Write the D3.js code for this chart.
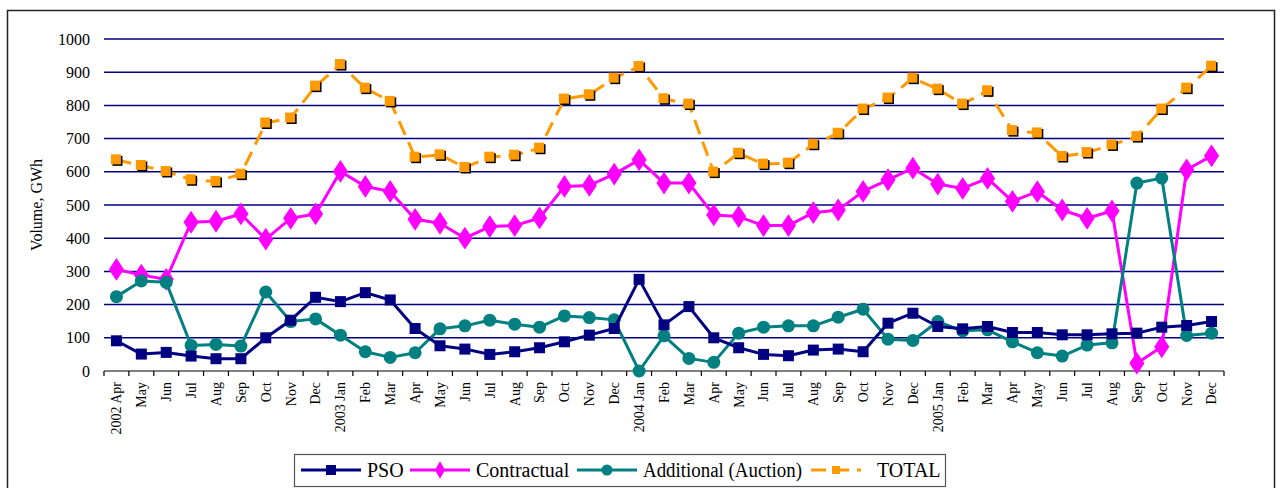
<!DOCTYPE html>
<html>
<head>
<meta charset="utf-8">
<script src="https://cdn.jsdelivr.net/npm/d3@7"></script>
<style>
  body { margin: 0; background: #fff; }
  svg { display: block; font-family: "Liberation Serif", "DejaVu Serif", serif; }
</style>
</head>
<body>
<div class="chart-container"></div>
<script>
// month labels, one per data point (Apr 2002 .. Dec 2005)
var months = [
    "2002 Apr", "May", "Jun", "Jul", "Aug", "Sep", "Oct", "Nov", "Dec",
    "2003 Jan", "Feb", "Mar", "Apr", "May", "Jun", "Jul", "Aug", "Sep", "Oct", "Nov", "Dec",
    "2004 Jan", "Feb", "Mar", "Apr", "May", "Jun", "Jul", "Aug", "Sep", "Oct", "Nov", "Dec",
    "2005 Jan", "Feb", "Mar", "Apr", "May", "Jun", "Jul", "Aug", "Sep", "Oct", "Nov", "Dec"
];

var pso = [
    91, 51, 56, 45, 37, 37, 100, 153, 222,
    209, 236, 214, 128, 76, 66, 50, 58, 70, 88, 108, 128,
    276, 139, 194, 100, 70, 50, 46, 63, 66, 58, 144, 174,
    134, 127, 134, 116, 116, 109, 109, 112, 114, 132, 137, 149
];

var contractual = [
    306, 289, 276, 448, 451, 473, 397, 460, 473,
    601, 556, 541, 457, 445, 400, 435, 438, 461, 556, 559, 593,
    636, 566, 566, 470, 465, 438, 438, 477, 485, 541, 576, 611,
    563, 550, 580, 511, 540, 485, 460, 482, 23, 73, 606, 648
];

var additional = [
    224, 271, 267, 77, 80, 75, 238, 149, 157,
    108, 58, 41, 55, 127, 136, 153, 141, 132, 166, 161, 154,
    0, 106, 38, 26, 114, 132, 136, 136, 162, 186, 96, 92,
    149, 121, 124, 88, 55, 45, 78, 85, 566, 581, 107, 114
];

var total = [
    636, 619, 601, 576, 571, 593, 747, 762, 858,
    923, 852, 812, 644, 651, 613, 644, 650, 671, 819, 832, 882,
    917, 820, 804, 599, 656, 623, 626, 683, 716, 789, 822, 882,
    849, 804, 844, 724, 717, 646, 658, 681, 706, 789, 852, 918
];

var yTicks = [0, 100, 200, 300, 400, 500, 600, 700, 800, 900, 1000];

var seriesNames = ["PSO", "Contractual", "Additional (Auction)", "TOTAL"];

var width = 1281, height = 488;
var plotLeft = 104, plotRight = 1224, plotTop = 39, plotBottom = 371;

var svg = d3.select(".chart-container")
        .append("svg")
        .attr("width", width)
        .attr("height", height);

// outer frame
svg.append("rect")
        .attr("x", 7.5)
        .attr("y", 10.5)
        .attr("width", 1267)
        .attr("height", 500)
        .attr("fill", "none")
        .attr("stroke", "#222")
        .attr("stroke-width", 1.5);

var x = d3.scaleBand()
        .domain(d3.range(months.length))
        .range([plotLeft, plotRight])
        .padding(0);

var y = d3.scaleLinear()
        .domain([0, 1000])
        .range([plotBottom, plotTop]);

function cx(i) {
    return x(i) + x.bandwidth() / 2;
}

// gridlines
svg.append("g")
        .selectAll("line")
        .data(yTicks.filter(function (d) { return d > 0; }))
        .enter()
        .append("line")
        .attr("x1", plotLeft)
        .attr("x2", plotRight)
        .attr("y1", function (d) { return y(d); })
        .attr("y2", function (d) { return y(d); })
        .attr("stroke", "#000080")
        .attr("stroke-width", 1.5);

// y tick labels
svg.append("g")
        .selectAll("text")
        .data(yTicks)
        .enter()
        .append("text")
        .attr("x", 90)
        .attr("y", function (d) { return y(d); })
        .attr("dy", "0.35em")
        .attr("text-anchor", "end")
        .attr("font-size", 16)
        .text(function (d) { return d; });

svg.append("text")
        .attr("transform", "translate(42,205) rotate(-90)")
        .attr("text-anchor", "middle")
        .attr("font-size", 16)
        .text("Volume, GWh");

// x axis line and ticks between categories
svg.append("line")
        .attr("x1", plotLeft)
        .attr("x2", plotRight)
        .attr("y1", plotBottom)
        .attr("y2", plotBottom)
        .attr("stroke", "#000")
        .attr("stroke-width", 1.2);

svg.append("g")
        .selectAll("line")
        .data(d3.range(months.length + 1))
        .enter()
        .append("line")
        .attr("x1", function (d) { return plotLeft + d * x.bandwidth(); })
        .attr("x2", function (d) { return plotLeft + d * x.bandwidth(); })
        .attr("y1", plotBottom)
        .attr("y2", plotBottom + 5)
        .attr("stroke", "#000")
        .attr("stroke-width", 1.2);

svg.append("g")
        .selectAll("text")
        .data(months)
        .enter()
        .append("text")
        .attr("transform", function (d, i) {
            return "translate(" + cx(i) + "," + (plotBottom + 11) + ") rotate(-90)";
        })
        .attr("dy", "0.35em")
        .attr("text-anchor", "end")
        .attr("font-size", 14)
        .text(function (d) { return d; });

var line = d3.line()
        .x(function (d, i) { return cx(i); })
        .y(function (d) { return y(d); });

function drawLine(values, color, dash) {
    svg.append("path")
            .datum(values)
            .attr("d", line)
            .attr("fill", "none")
            .attr("stroke", color)
            .attr("stroke-width", 3)
            .attr("stroke-linejoin", "round")
            .attr("stroke-dasharray", dash || null);
}

var diamond = d3.symbol().type(d3.symbolDiamond).size(150);

// TOTAL
drawLine(total, "#FF9900", "15,8");
var tg = svg.append("g");
tg.selectAll("rect.shadow")
        .data(total)
        .enter()
        .append("rect")
        .attr("x", function (d, i) { return cx(i) - 4; })
        .attr("y", function (d) { return y(d) - 4; })
        .attr("width", 10)
        .attr("height", 10)
        .attr("fill", "#000");
tg.selectAll("rect.mark")
        .data(total)
        .enter()
        .append("rect")
        .attr("x", function (d, i) { return cx(i) - 5.5; })
        .attr("y", function (d) { return y(d) - 5.5; })
        .attr("width", 10)
        .attr("height", 10)
        .attr("fill", "#FF9900");

// Contractual
drawLine(contractual, "#FF00FF");
svg.append("g")
        .selectAll("path")
        .data(contractual)
        .enter()
        .append("path")
        .attr("d", diamond)
        .attr("transform", function (d, i) {
            return "translate(" + cx(i) + "," + y(d) + ") scale(1.15,1)";
        })
        .attr("fill", "#FF00FF");

// Additional
drawLine(additional, "#008080");
svg.append("g")
        .selectAll("circle")
        .data(additional)
        .enter()
        .append("circle")
        .attr("cx", function (d, i) { return cx(i); })
        .attr("cy", function (d) { return y(d); })
        .attr("r", 6.5)
        .attr("fill", "#008080");

// PSO
drawLine(pso, "#000080");
svg.append("g")
        .selectAll("rect")
        .data(pso)
        .enter()
        .append("rect")
        .attr("x", function (d, i) { return cx(i) - 5.5; })
        .attr("y", function (d) { return y(d) - 5.5; })
        .attr("width", 11)
        .attr("height", 11)
        .attr("fill", "#000080");

// legend
var lg = svg.append("g");
lg.append("rect")
        .attr("x", 294.5)
        .attr("y", 454.5)
        .attr("width", 651)
        .attr("height", 32)
        .attr("fill", "#fff")
        .attr("stroke", "#555")
        .attr("stroke-width", 1.2);

var legendItems = [
    {name: seriesNames[0], color: "#000080", x1: 301, x2: 361, text: 367, mark: "square"},
    {name: seriesNames[1], color: "#FF00FF", x1: 410, x2: 470, text: 476, mark: "diamond"},
    {name: seriesNames[2], color: "#008080", x1: 577, x2: 637, text: 643, mark: "circle", len: 159},
    {name: seriesNames[3], color: "#FF9900", x1: 811, x2: 861, text: 877, mark: "total"}
];
var ly = 470;
legendItems.forEach(function (it) {
    var mx = (it.x1 + it.x2) / 2;
    lg.append("line")
            .attr("x1", it.x1)
            .attr("x2", it.x2)
            .attr("y1", ly)
            .attr("y2", ly)
            .attr("stroke", it.color)
            .attr("stroke-width", 3)
            .attr("stroke-dasharray", it.mark === "total" ? "15,8" : null);
    if (it.mark === "square" || it.mark === "total") {
        var s = it.mark === "total" ? 8 : 10;
        lg.append("rect")
                .attr("x", mx - s / 2)
                .attr("y", ly - s / 2)
                .attr("width", s)
                .attr("height", s)
                .attr("fill", it.color);
    } else if (it.mark === "diamond") {
        lg.append("path")
                .attr("d", d3.symbol().type(d3.symbolDiamond).size(90))
                .attr("transform", "translate(" + mx + "," + ly + ")")
                .attr("fill", it.color);
    } else {
        lg.append("circle")
                .attr("cx", mx)
                .attr("cy", ly)
                .attr("r", 5.5)
                .attr("fill", it.color);
    }
    var t = lg.append("text")
            .attr("x", it.text)
            .attr("y", ly)
            .attr("dy", "0.35em")
            .attr("font-size", 20)
            .text(it.name);
    if (it.len) {
        t.attr("textLength", it.len).attr("lengthAdjust", "spacingAndGlyphs");
    }
});
</script>
</body>
</html>
